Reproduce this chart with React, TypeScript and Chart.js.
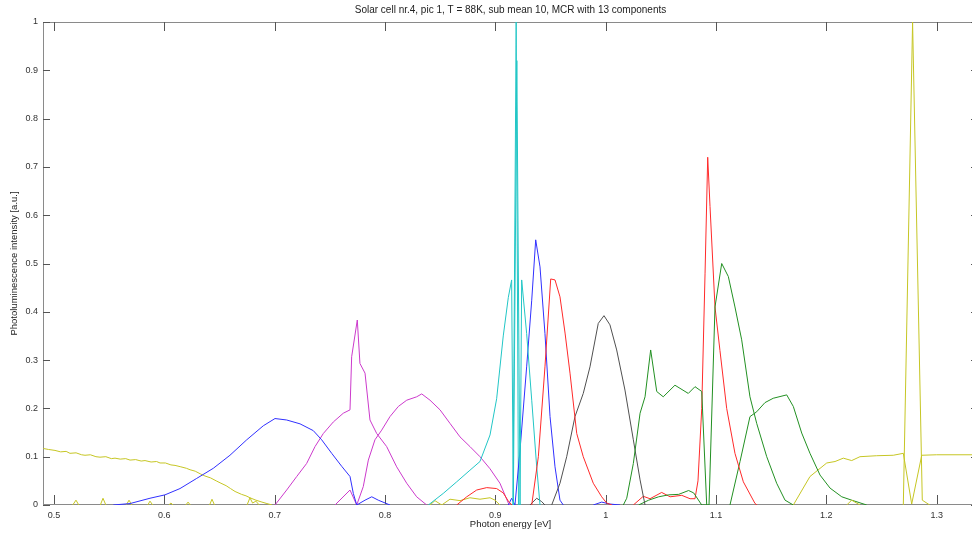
import React, { useEffect, useRef } from 'react';
import { Chart, registerables } from 'chart.js';

Chart.register(...registerables);

const TITLE = 'Solar cell nr.4, pic 1, T = 88K, sub mean 10, MCR with 13 components';
const X_LABEL = 'Photon energy [eV]';
const Y_LABEL = 'Photoluminescence intensity [a.u.]';

const X_MIN = 0.49003;
const X_MAX = 1.33749;
const xTicks = [0.5, 0.6, 0.7, 0.8, 0.9, 1.0, 1.1, 1.2, 1.3];
const yTicks = [0, 0.1, 0.2, 0.3, 0.4, 0.5, 0.6, 0.7, 0.8, 0.9, 1.0];

// ---- series (photon energy [eV], intensity [a.u.]) ----
const blue1E = [0.5537, 0.5689, 0.5870, 0.6006, 0.6142, 0.6293, 0.6444, 0.6595, 0.6747, 0.6897, 0.7003, 0.7109, 0.7230, 0.7350, 0.7426, 0.7517, 0.7608, 0.7683, 0.7713, 0.7744, 0.7819, 0.7880, 0.7939, 0.8045];
const blue1I = [0, 0.003, 0.014, 0.021, 0.034, 0.055, 0.076, 0.103, 0.135, 0.164, 0.179, 0.176, 0.168, 0.154, 0.135, 0.107, 0.080, 0.059, 0.024, 0, 0.010, 0.017, 0.010, 0];

const blue2E = [0.9118, 0.9148, 0.9178, 0.9224, 0.9284, 0.9330, 0.9366, 0.9405, 0.9450, 0.9496, 0.9541, 0.9586, 0.9616, 0.9750, 0.9888, 0.9964, 1.0039, 1.0130];
const blue2I = [0, 0.014, 0, 0.114, 0.286, 0.424, 0.549, 0.493, 0.355, 0.183, 0.079, 0.010, 0, null, 0, 0.006, 0.002, 0];

const magenta1E = [0.7003, 0.7109, 0.7200, 0.7290, 0.7366, 0.7441, 0.7532, 0.7622, 0.7683, 0.7698, 0.7749, 0.7773, 0.7819, 0.7864, 0.7925, 0.8015, 0.8106, 0.8197, 0.8287, 0.8378];
const magenta1I = [0, 0.031, 0.059, 0.086, 0.121, 0.148, 0.172, 0.190, 0.197, 0.307, 0.383, 0.293, 0.273, 0.176, 0.148, 0.121, 0.079, 0.045, 0.017, 0];

const magenta2E = [0.7547, 0.7683, 0.7744, 0.7803, 0.7849, 0.7909, 0.7970, 0.8045, 0.8121, 0.8197, 0.8287, 0.8333, 0.8408, 0.8499, 0.8589, 0.8680, 0.8770, 0.8861, 0.8952, 0.9042, 0.9118, 0.9133];
const magenta2I = [0, 0.031, 0, 0.038, 0.093, 0.135, 0.155, 0.183, 0.204, 0.217, 0.224, 0.230, 0.217, 0.197, 0.169, 0.141, 0.121, 0.100, 0.075, 0.045, 0.004, 0];

const cyan1E = [0.8393, 0.8528, 0.8650, 0.8770, 0.8861, 0.8952, 0.9012, 0.9072, 0.9118, 0.9148, 0.9163, 0.9195, 0.9224, 0.9239, 0.9284, 0.9330, 0.9375, 0.9405];
const cyan1I = [0, 0.024, 0.048, 0.072, 0.090, 0.145, 0.220, 0.350, 0.430, 0.466, 0, 0.92, 0, 0.466, 0.355, 0.217, 0.079, 0];

const cyan2E = [0.9160, 0.9189, 0.9210];
const cyan2I = [0, 1.0, 0];

const red1E = [0.8650, 0.8741, 0.8831, 0.8922, 0.9012, 0.9072, 0.9118, 0.9151, 0.9200, 0.9330, 0.9390, 0.9450, 0.9502, 0.9541, 0.9586, 0.9632, 0.9677, 0.9738, 0.9797, 0.9888, 0.9964, 1.0009, 1.0057];
const red1I = [0, 0.017, 0.031, 0.036, 0.034, 0.025, 0.008, 0, null, 0, 0.100, 0.286, 0.468, 0.466, 0.431, 0.356, 0.273, 0.148, 0.100, 0.045, 0.017, 0.004, 0];

const blackE = [0.9314, 0.9375, 0.9420, 0.9450, 0.9480, 0.9511, 0.9586, 0.9647, 0.9722, 0.9797, 0.9858, 0.9933, 0.9985, 1.0039, 1.0100, 1.0175, 1.0251, 1.0312, 1.0357];
const blackI = [0, 0.014, 0.007, 0, null, 0, 0.045, 0.100, 0.183, 0.231, 0.286, 0.376, 0.392, 0.373, 0.321, 0.238, 0.135, 0.052, 0];

const green1E = [1.0160, 1.0191, 1.0251, 1.0312, 1.0357, 1.0408, 1.0463, 1.0522, 1.0628, 1.0749, 1.0810, 1.0871, 1.0916];
const green1I = [0, 0.014, 0.086, 0.190, 0.224, 0.321, 0.235, 0.224, 0.248, 0.231, 0.245, 0.235, 0];

const green2E = [1.0299, 1.0390, 1.0481, 1.0571, 1.0662, 1.0752, 1.0798, 1.0871, 1.0937, 1.0991, 1.1052, 1.1112, 1.1172, 1.1233, 1.1308, 1.1369, 1.1460, 1.1550, 1.1626, 1.1701];
const green2I = [0, 0.010, 0.017, 0.021, 0.022, 0.030, 0.025, 0, 0, 0.410, 0.500, 0.473, 0.410, 0.342, 0.224, 0.169, 0.100, 0.045, 0.010, 0];

const green3E = [1.1127, 1.1218, 1.1308, 1.1369, 1.1444, 1.1519, 1.1641, 1.1701, 1.1777, 1.1852, 1.1943, 1.2034, 1.2140, 1.2230, 1.2366];
const green3I = [0, 0.090, 0.183, 0.193, 0.212, 0.221, 0.228, 0.204, 0.149, 0.107, 0.062, 0.035, 0.017, 0.010, 0];

const red2E = [1.0251, 1.0341, 1.0402, 1.0508, 1.0584, 1.0690, 1.0765, 1.0810, 1.0837, 1.0871, 1.0901, 1.0925, 1.0946, 1.0991, 1.1036, 1.1097, 1.1172, 1.1248, 1.1354, 1.1372];
const red2I = [0, 0.018, 0.013, 0.026, 0.017, 0.020, 0.013, 0.013, 0.050, 0.200, 0.480, 0.720, 0.618, 0.410, 0.320, 0.200, 0.107, 0.048, 0.003, 0];

const yellowLeftE = [0.4903, 0.4950, 0.5009, 0.5060, 0.5110, 0.5145, 0.5200, 0.5250, 0.5281, 0.5330, 0.5380, 0.5417, 0.5470, 0.5520, 0.5553, 0.5600, 0.5650, 0.5689, 0.5740, 0.5790, 0.5825, 0.5880, 0.5930, 0.5961, 0.6010, 0.6060, 0.6097, 0.6150, 0.6200, 0.6233, 0.6280, 0.6330, 0.6369, 0.6420, 0.6470, 0.6505, 0.6560, 0.6600, 0.6641, 0.6700, 0.6740, 0.6776, 0.6830, 0.6885, 0.6930, 0.6976];
const yellowLeftI = [0.117, 0.115, 0.113, 0.110, 0.111, 0.107, 0.108, 0.104, 0.103, 0.104, 0.100, 0.099, 0.100, 0.096, 0.097, 0.095, 0.096, 0.093, 0.094, 0.091, 0.092, 0.089, 0.090, 0.087, 0.087, 0.083, 0.082, 0.079, 0.076, 0.073, 0.070, 0.064, 0.060, 0.056, 0.050, 0.046, 0.040, 0.034, 0.028, 0.022, 0.019, 0.015, 0.010, 0.006, 0.003, 0];

const yellowSpikeE = [0.5170, 0.5199, 0.5225, 0.53, 0.5420, 0.5444, 0.5470, 0.555, 0.5655, 0.5680, 0.5705, 0.577, 0.5850, 0.5870, 0.5895, 0.595, 0.6040, 0.6060, 0.6080, 0.613, 0.6195, 0.6215, 0.6235, 0.63, 0.6410, 0.6432, 0.6455, 0.66, 0.6750, 0.6776, 0.6800, 0.6830, 0.6860, 0.75, 0.8408, 0.8453, 0.8514, 0.8589, 0.8680, 0.8770, 0.8861, 0.8952, 0.8997, 0.9042, 1.0, 1.2185, 1.2230, 1.2305, 1.25, 1.2698, 1.2782, 1.2870, 1.2937];
const yellowSpikeI = [0, 0.010, 0, null, 0, 0.014, 0, null, 0, 0.010, 0, null, 0, 0.008, 0, null, 0, 0.004, 0, null, 0, 0.006, 0, null, 0, 0.012, 0, null, 0, 0.015, 0.004, 0.008, 0, null, 0, 0.009, 0, 0.012, 0.009, 0.015, 0.012, 0.015, 0.010, 0, null, 0, 0.010, 0, null, 0, 1.0, 0.010, 0];

const yellowRightE = [1.1701, 1.1852, 1.2004, 1.2079, 1.2154, 1.2230, 1.2305, 1.2457, 1.2607, 1.2698, 1.2774, 1.2865, 1.3000, 1.3375];
const yellowRightI = [0, 0.059, 0.087, 0.090, 0.097, 0.092, 0.100, 0.102, 0.103, 0.107, 0.002, 0.103, 0.104, 0.104];

const BLUE = '#3030ff';
const GREEN = '#229022';
const RED = '#ff2a2a';
const CYAN = '#22c6c6';
const MAGENTA = '#cc3acc';
const YELLOW = '#c6c624';
const BLACK = '#505050';

const seriesList: [number[], (number | null)[], string][] = [
  [blue1E, blue1I, BLUE],
  [green1E, green1I, GREEN],
  [red1E, red1I, RED],
  [cyan1E, cyan1I, CYAN],
  [magenta1E, magenta1I, MAGENTA],
  [yellowLeftE, yellowLeftI, YELLOW],
  [blackE, blackI, BLACK],
  [blue2E, blue2I, BLUE],
  [green2E, green2I, GREEN],
  [red2E, red2I, RED],
  [cyan2E, cyan2I, CYAN],
  [magenta2E, magenta2I, MAGENTA],
  [yellowSpikeE, yellowSpikeI, YELLOW],
  [green3E, green3I, GREEN],
  [yellowRightE, yellowRightI, YELLOW],
];

const fmt = (v: number) => String(Math.round(v * 10) / 10);

const matlabAxes = {
  id: 'matlabAxes',
  beforeDatasetsDraw(chart: any) {
    const { ctx, chartArea: a, scales } = chart;
    const xs = scales.x;
    const ys = scales.y;
    ctx.save();
    ctx.lineWidth = 1;
    ctx.strokeStyle = '#8a8a8a';
    ctx.strokeRect(a.left + 0.5, a.top + 0.5, a.right - a.left - 1, a.bottom - a.top - 1);
    ctx.strokeStyle = '#555555';
    ctx.beginPath();
    xTicks.forEach((v) => {
      const px = Math.round(xs.getPixelForValue(v)) + 0.5;
      ctx.moveTo(px, a.bottom - 1);
      ctx.lineTo(px, a.bottom - 10);
      ctx.moveTo(px, a.top);
      ctx.lineTo(px, a.top + 9);
    });
    yTicks.forEach((v) => {
      const py = Math.round(ys.getPixelForValue(v)) + 0.5;
      ctx.moveTo(a.left, py);
      ctx.lineTo(a.left + 7, py);
      ctx.moveTo(a.right, py);
      ctx.lineTo(a.right - 7, py);
    });
    ctx.stroke();
    ctx.restore();
  },
};

export default function App() {
  const ref = useRef<HTMLCanvasElement | null>(null);

  useEffect(() => {
    if (!ref.current) return;
    Chart.defaults.font.family = '"Liberation Sans", Arial, sans-serif';
    const datasets = seriesList.map(([es, is, color]) => ({
      data: es.map((e, i) => ({ x: e, y: is[i] })),
      borderColor: color,
      borderWidth: 1,
      pointRadius: 0,
      tension: 0,
      fill: false,
      spanGaps: false,
    }));
    const chart = new Chart(ref.current, {
      type: 'line',
      data: { datasets },
      plugins: [matlabAxes],
      options: {
        animation: false,
        responsive: false,
        devicePixelRatio: 1,
        layout: { padding: { left: 0, right: 2, top: 0, bottom: 0 } },
        plugins: {
          legend: { display: false },
          tooltip: { enabled: false },
          title: {
            display: true,
            text: TITLE,
            fullSize: false,
            color: '#222',
            font: { size: 10, weight: 'normal' },
            padding: { top: 4, bottom: 6 },
          },
        },
        scales: {
          x: {
            type: 'linear',
            min: X_MIN,
            max: X_MAX,
            afterBuildTicks: (s: any) => {
              s.ticks = xTicks.map((v) => ({ value: v }));
            },
            afterFit: (s: any) => {
              s.height = 33;
            },
            grid: { display: false, drawTicks: false },
            border: { display: false },
            ticks: {
              padding: 5,
              color: '#333',
              font: { size: 9 },
              maxRotation: 0,
              autoSkip: false,
              callback: (v: any) => fmt(Number(v)),
            },
            title: {
              display: true,
              text: X_LABEL,
              color: '#222',
              font: { size: 9.5 },
              padding: { top: 0, bottom: 8 },
            },
          },
          y: {
            type: 'linear',
            min: 0,
            max: 1,
            afterBuildTicks: (s: any) => {
              s.ticks = yTicks.map((v) => ({ value: v }));
            },
            afterFit: (s: any) => {
              s.width = 43;
            },
            grid: { display: false, drawTicks: false },
            border: { display: false },
            ticks: {
              padding: 5,
              color: '#333',
              font: { size: 9 },
              autoSkip: false,
              callback: (v: any) => fmt(Number(v)),
            },
            title: {
              display: true,
              text: Y_LABEL,
              color: '#222',
              font: { size: 9.5 },
              padding: { top: 9, bottom: 0 },
            },
          },
        },
      },
    } as any);
    return () => chart.destroy();
  }, []);

  return (
    <div style={{ position: 'absolute', left: 0, top: 0, width: 972, height: 538, overflow: 'hidden', background: '#fff' }}>
      <canvas ref={ref} width={980} height={538} style={{ display: 'block', width: 980, height: 538 }} />
    </div>
  );
}
